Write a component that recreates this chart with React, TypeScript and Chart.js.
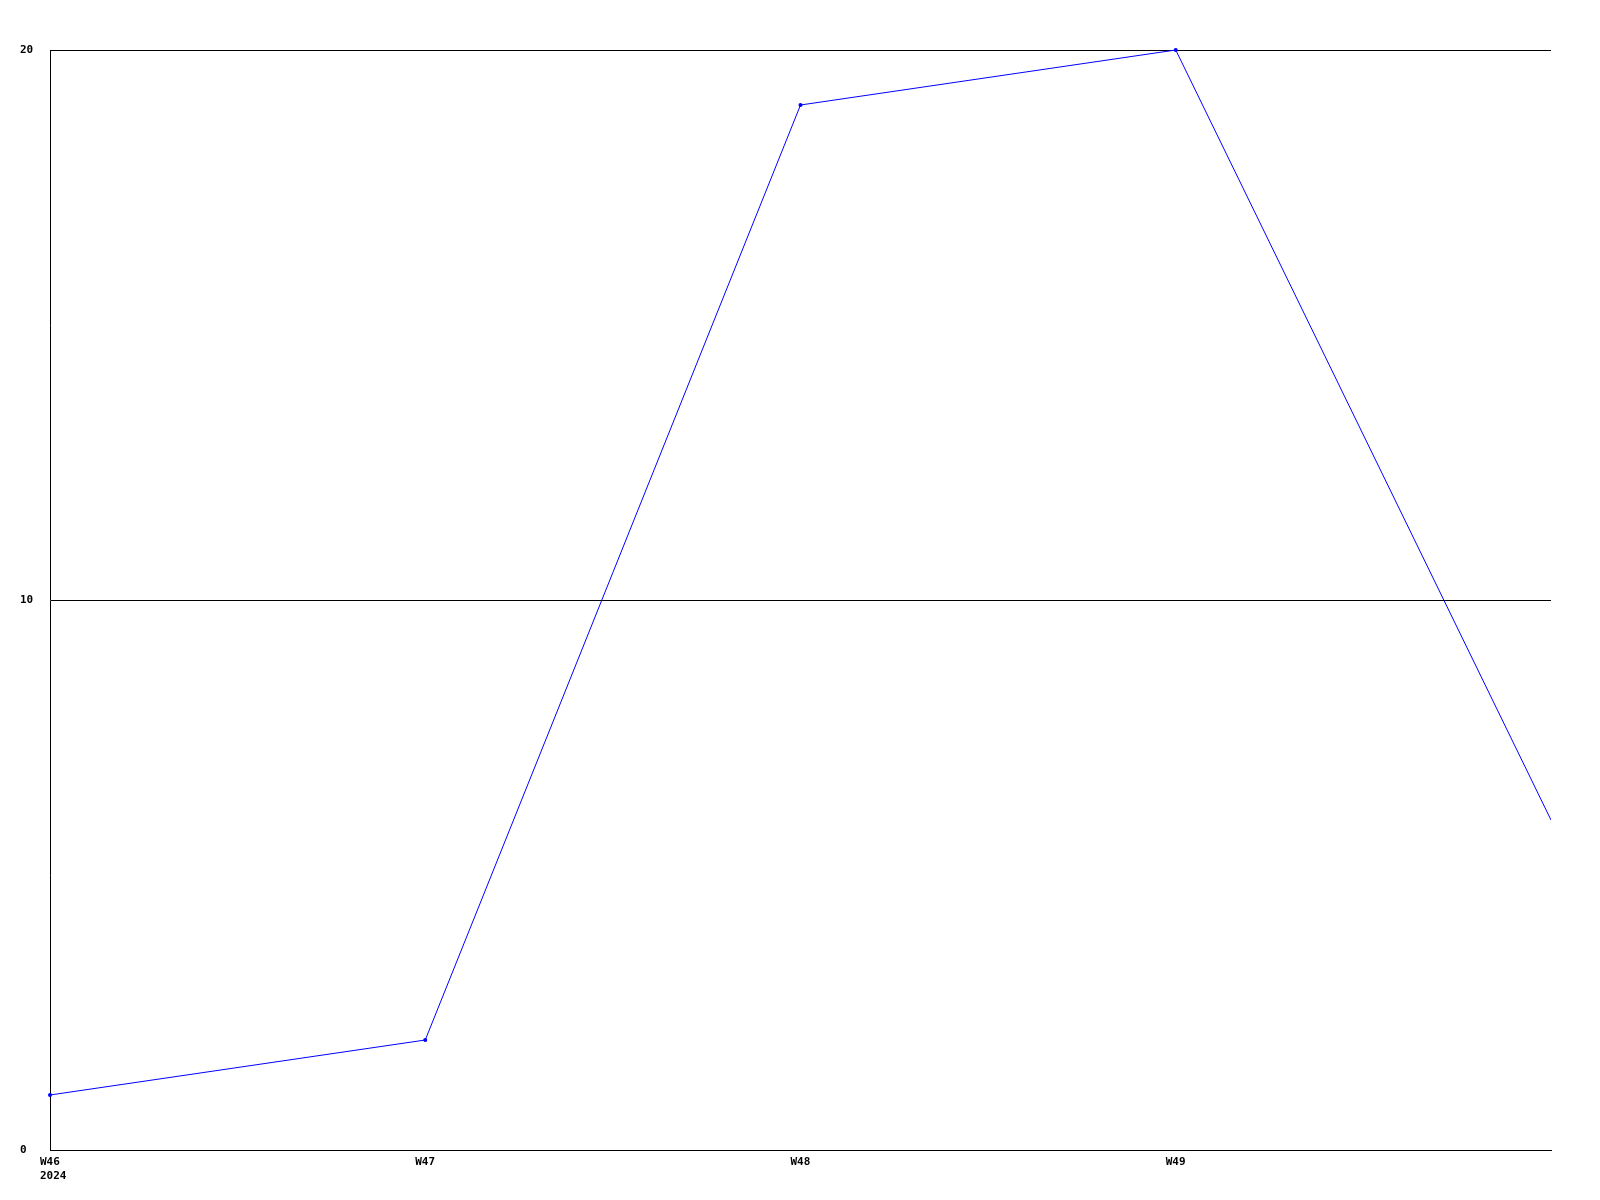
import React, { useEffect, useRef } from "react";
import { Chart, registerables } from "chart.js";

Chart.register(...registerables);

const categories = ["W46", "W47", "W48", "W49", "W50"];
const firstYearLabel = "2024";
const values = [1, 2, 19, 20, 6];
const yTicks = [0, 10, 20];

const FONT = { family: "'DejaVu Sans Mono', monospace", size: 11, weight: "bold" as const, lineHeight: 14 / 11 };

export default function App() {
  const ref = useRef<HTMLCanvasElement | null>(null);
  useEffect(() => {
    if (!ref.current) return;
    const last = values.length - 1;
    const chart = new Chart(ref.current, {
      type: "line",
      data: {
        labels: categories,
        datasets: [
          {
            data: values,
            borderColor: "#0000ff",
            backgroundColor: "#0000ff",
            borderWidth: 1,
            tension: 0,
            fill: false,
            clip: { left: 3, top: 3, right: 0, bottom: 3 } as any,
            pointRadius: (c: any) => (c.dataIndex === last ? 0 : 2),
            pointBorderWidth: 0,
            pointHoverRadius: 2,
          },
        ],
      },
      options: {
        animation: false,
        responsive: true,
        maintainAspectRatio: false,
        plugins: { legend: { display: false }, tooltip: { enabled: false } },
        layout: { padding: { left: 20, top: 50, right: 49, bottom: 0 } },
        scales: {
          x: {
            type: "category",
            offset: false,
            grid: { display: false, drawTicks: false },
            border: { display: true, color: "#000000", width: 1 },
            afterFit: (s: any) => {
              s.height = 50;
            },
            ticks: {
              autoSkip: false,
              maxRotation: 0,
              minRotation: 0,
              align: "start",
              labelOffset: -10,
              padding: 5,
              color: "#000000",
              font: FONT,
              callback: (_v: any, i: number) => {
                if (i === last) return "";
                return i === 0 ? [categories[i], firstYearLabel] : categories[i];
              },
            },
          },
          y: {
            min: yTicks[0],
            max: yTicks[yTicks.length - 1],
            grid: { color: "#000000", lineWidth: 1, drawTicks: false },
            border: { display: true, color: "#000000", width: 1 },
            afterFit: (s: any) => {
              s.width = 30;
            },
            afterBuildTicks: (s: any) => {
              s.ticks = yTicks.map((v) => ({ value: v }));
            },
            ticks: {
              crossAlign: "far",
              padding: 0,
              color: "#000000",
              font: FONT,
            },
          },
        },
      },
    });
    return () => chart.destroy();
  }, []);
  return (
    <div style={{ position: "fixed", left: 0, top: 0, width: 1600, height: 1200, background: "#ffffff" }}>
      <canvas ref={ref} />
    </div>
  );
}
